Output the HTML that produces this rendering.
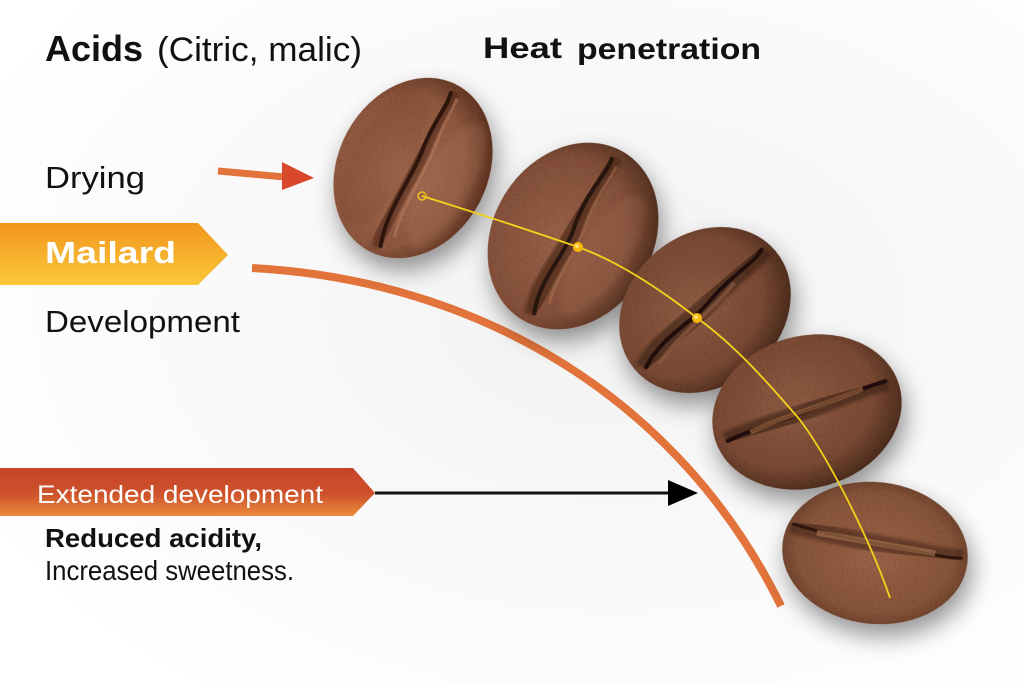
<!DOCTYPE html>
<html><head><meta charset="utf-8"><style>
html,body{margin:0;padding:0;background:#fff;}
svg{display:block;}
text{font-family:"Liberation Sans",sans-serif;}
</style></head><body>
<svg width="1024" height="683" viewBox="0 0 1024 683" xmlns="http://www.w3.org/2000/svg">
<defs>
  <radialGradient id="bg" cx="0.6" cy="0.45" r="0.7">
    <stop offset="0" stop-color="#f2f2f2"/>
    <stop offset="0.6" stop-color="#fafafa"/>
    <stop offset="1" stop-color="#ffffff"/>
  </radialGradient>
  <linearGradient id="mail" x1="0" y1="0" x2="0" y2="1">
    <stop offset="0" stop-color="#f2961c"/>
    <stop offset="1" stop-color="#f9c83c"/>
  </linearGradient>
  <linearGradient id="ext" x1="0" y1="0" x2="0" y2="1">
    <stop offset="0" stop-color="#c6432a"/>
    <stop offset="0.55" stop-color="#cd532c"/>
    <stop offset="1" stop-color="#ec8c3c"/>
  </linearGradient>
  <radialGradient id="b1" cx="0.45" cy="0.42" r="0.6">
    <stop offset="0" stop-color="#a66c52"/>
    <stop offset="0.7" stop-color="#8e573e"/>
    <stop offset="1" stop-color="#5c321f"/>
  </radialGradient>
  <radialGradient id="b2" cx="0.45" cy="0.42" r="0.6">
    <stop offset="0" stop-color="#986048"/>
    <stop offset="0.7" stop-color="#84503a"/>
    <stop offset="1" stop-color="#52301e"/>
  </radialGradient>
  <radialGradient id="b3" cx="0.45" cy="0.42" r="0.6">
    <stop offset="0" stop-color="#8e5a42"/>
    <stop offset="0.7" stop-color="#7a4a34"/>
    <stop offset="1" stop-color="#4a2a1a"/>
  </radialGradient>
  <radialGradient id="b5" cx="0.5" cy="0.5" r="0.6">
    <stop offset="0" stop-color="#9a6248"/>
    <stop offset="0.7" stop-color="#875439"/>
    <stop offset="1" stop-color="#583220"/>
  </radialGradient>
  <filter id="sh" x="-40%" y="-40%" width="180%" height="180%">
    <feGaussianBlur in="SourceAlpha" stdDeviation="12"/>
    <feOffset dx="4" dy="12" result="o"/>
    <feComponentTransfer><feFuncA type="linear" slope="0.42"/></feComponentTransfer>
    <feMerge><feMergeNode/><feMergeNode in="SourceGraphic"/></feMerge>
  </filter>
  <filter id="blur3"><feGaussianBlur stdDeviation="3"/></filter>
  <filter id="blur2"><feGaussianBlur stdDeviation="1.5"/></filter>
  <filter id="tex" x="0" y="0" width="100%" height="100%">
    <feTurbulence type="fractalNoise" baseFrequency="0.35" numOctaves="2" seed="4" result="n"/>
    <feColorMatrix in="n" type="matrix" values="0 0 0 0 0  0 0 0 0 0  0 0 0 0 0  0 0 0 0.9 -0.3" result="a"/>
    <feComposite in="a" in2="SourceAlpha" operator="in" result="m"/>
    <feComponentTransfer in="m" result="m2"><feFuncA type="linear" slope="0.35"/></feComponentTransfer>
    <feMerge><feMergeNode in="SourceGraphic"/><feMergeNode in="m2"/></feMerge>
  </filter>
</defs>

<rect width="1024" height="683" fill="url(#bg)"/>

<!-- Texts -->
<text x="45" y="61" font-size="36" font-weight="bold" fill="#111" textLength="98" lengthAdjust="spacingAndGlyphs">Acids</text>
<text x="157" y="61" font-size="34" fill="#111" textLength="205" lengthAdjust="spacingAndGlyphs">(Citric, malic)</text>
<text x="483" y="58" font-size="30" font-weight="bold" fill="#111" textLength="79" lengthAdjust="spacingAndGlyphs">Heat</text>
<text x="577" y="59" font-size="30" font-weight="bold" fill="#111" textLength="184" lengthAdjust="spacingAndGlyphs">penetration</text>
<text x="45" y="188" font-size="31" fill="#111" textLength="100" lengthAdjust="spacingAndGlyphs">Drying</text>

<!-- Drying arrow -->
<line x1="218" y1="171" x2="285" y2="177" stroke="#e2733a" stroke-width="7"/>
<polygon points="282,162 314,178 282,190" fill="#d9482a"/>

<!-- Mailard banner -->
<polygon points="0,223 198,223 228,255 198,285 0,285" fill="url(#mail)"/>
<text x="45" y="263" font-size="31" font-weight="bold" fill="#fff" textLength="131" lengthAdjust="spacingAndGlyphs">Mailard</text>

<text x="45" y="332" font-size="31" fill="#111" textLength="195" lengthAdjust="spacingAndGlyphs">Development</text>

<!-- Orange arc -->
<path d="M252,268 C480,280 680,400 781,606" fill="none" stroke="#e2733a" stroke-width="8"/>

<!-- Extended development banner -->
<polygon points="0,468 353,468 375,493 353,516 0,516" fill="url(#ext)"/>
<text x="37" y="503" font-size="25" fill="#fff" textLength="286" lengthAdjust="spacingAndGlyphs">Extended development</text>

<!-- black arrow -->
<line x1="375" y1="493" x2="672" y2="493" stroke="#111" stroke-width="3"/>
<polygon points="668,480 698,493 668,506" fill="#000"/>

<text x="45" y="547" font-size="26" font-weight="bold" fill="#111" textLength="217" lengthAdjust="spacingAndGlyphs">Reduced acidity,</text>
<text x="45" y="580" font-size="28" fill="#111" textLength="249" lengthAdjust="spacingAndGlyphs">Increased sweetness.</text>

<!-- Beans -->
<g filter="url(#sh)">
  <g transform="translate(413,168) rotate(-62)">
    <ellipse rx="94" ry="75" fill="url(#b1)" filter="url(#tex)"/>
    <ellipse cx="-5" cy="-32" rx="75" ry="30" fill="#6a3a26" opacity="0.18" filter="url(#blur3)"/>
    <path d="M-86,8 C-50,-6 -10,4 20,0 C50,-4 70,2 86,-2" fill="none" stroke="#4a2414" stroke-width="16" opacity="0.55" filter="url(#blur2)"/>
    <path d="M-84,8 C-50,-4 -10,4 20,0 C50,-4 70,2 84,-2" fill="none" stroke="#2e140a" stroke-width="4" stroke-linecap="round"/>
    <path d="M-70,16 C-40,8 0,14 40,8 C60,6 75,8 82,6" fill="none" stroke="#b07a5c" stroke-width="3" opacity="0.6"/>
    <ellipse cx="0" cy="38" rx="70" ry="24" fill="#b07a5e" opacity="0.25" filter="url(#blur3)"/>
  </g>
</g>
<g filter="url(#sh)">
  <g transform="translate(573,236) rotate(-58)">
    <ellipse rx="98" ry="80" fill="url(#b2)" filter="url(#tex)"/>
    <path d="M-88,8 C-55,-6 -20,4 10,-4 C45,-12 70,-4 88,-8" fill="none" stroke="#3a1c0e" stroke-width="18" opacity="0.55" filter="url(#blur2)"/>
    <path d="M-86,8 C-55,-6 -20,4 10,-4 C45,-12 70,-4 86,-8" fill="none" stroke="#26120a" stroke-width="4" stroke-linecap="round"/>
    <path d="M-70,16 C-45,6 -10,12 20,4 C50,-2 70,2 82,0" fill="none" stroke="#a87050" stroke-width="3" opacity="0.55"/>
    <ellipse cx="0" cy="36" rx="70" ry="24" fill="#a87258" opacity="0.22" filter="url(#blur3)"/>
  </g>
</g>
<g filter="url(#sh)">
  <g transform="translate(705,310) rotate(-40)">
    <ellipse rx="92" ry="76" fill="url(#b3)" filter="url(#tex)"/>
    <path d="M-84,6 C-50,-8 -20,2 10,-4 C45,-10 68,-4 84,-10" fill="none" stroke="#2a140a" stroke-width="20" opacity="0.5" filter="url(#blur2)"/>
    <path d="M-82,6 C-50,-8 -20,2 10,-4 C45,-10 68,-4 82,-10" fill="none" stroke="#22100a" stroke-width="4" stroke-linecap="round"/>
    <path d="M-70,12 C-40,2 0,6 40,-2" fill="none" stroke="#8a5a40" stroke-width="4" opacity="0.7"/>
  </g>
</g>
<g filter="url(#sh)">
  <g transform="translate(807,412) rotate(-16)">
    <ellipse rx="96" ry="76" fill="url(#b3)" filter="url(#tex)"/>
    <path d="M-86,6 C-50,0 -20,2 10,-2 C45,-6 70,-8 86,-8" fill="none" stroke="#2a140a" stroke-width="18" opacity="0.5" filter="url(#blur2)"/>
    <path d="M-84,6 C-50,0 -20,2 10,-2 C45,-6 70,-8 84,-8" fill="none" stroke="#22100a" stroke-width="4" stroke-linecap="round"/>
    <path d="M-60,4 C-30,-2 10,-1 60,-7" fill="none" stroke="#94603f" stroke-width="5" opacity="0.7"/>
  </g>
</g>
<g filter="url(#sh)">
  <g transform="translate(875,553) rotate(6)">
    <ellipse rx="93" ry="71" fill="url(#b5)" filter="url(#tex)"/>
    <path d="M-86,-20 C-50,-14 -10,-10 20,-8 C50,-6 70,-2 88,-4" fill="none" stroke="#2e160c" stroke-width="18" opacity="0.45" filter="url(#blur2)"/>
    <path d="M-84,-20 C-50,-14 -10,-10 20,-8 C50,-6 70,-2 86,-4" fill="none" stroke="#2e160c" stroke-width="3" stroke-linecap="round"/>
    <path d="M-60,-14 C-30,-12 10,-9 60,-6" fill="none" stroke="#a06c4a" stroke-width="6" opacity="0.7"/>
  </g>
</g>

<!-- Yellow heat line -->
<path d="M422,196 C480,214 540,234 578,247 C620,262 665,293 697,318 C735,345 770,385 800,420 C830,460 870,540 890,598" fill="none" stroke="#f2d21a" stroke-width="1.8"/>
<circle cx="422" cy="196" r="4" fill="none" stroke="#e8c020" stroke-width="1.5"/>
<circle cx="578" cy="247" r="5" fill="#f7b80e"/>
<circle cx="577" cy="246" r="2" fill="#ffe070"/>
<circle cx="697" cy="318" r="5" fill="#f7b80e"/>
<circle cx="696" cy="317" r="2" fill="#ffe070"/>
</svg>
</body></html>
